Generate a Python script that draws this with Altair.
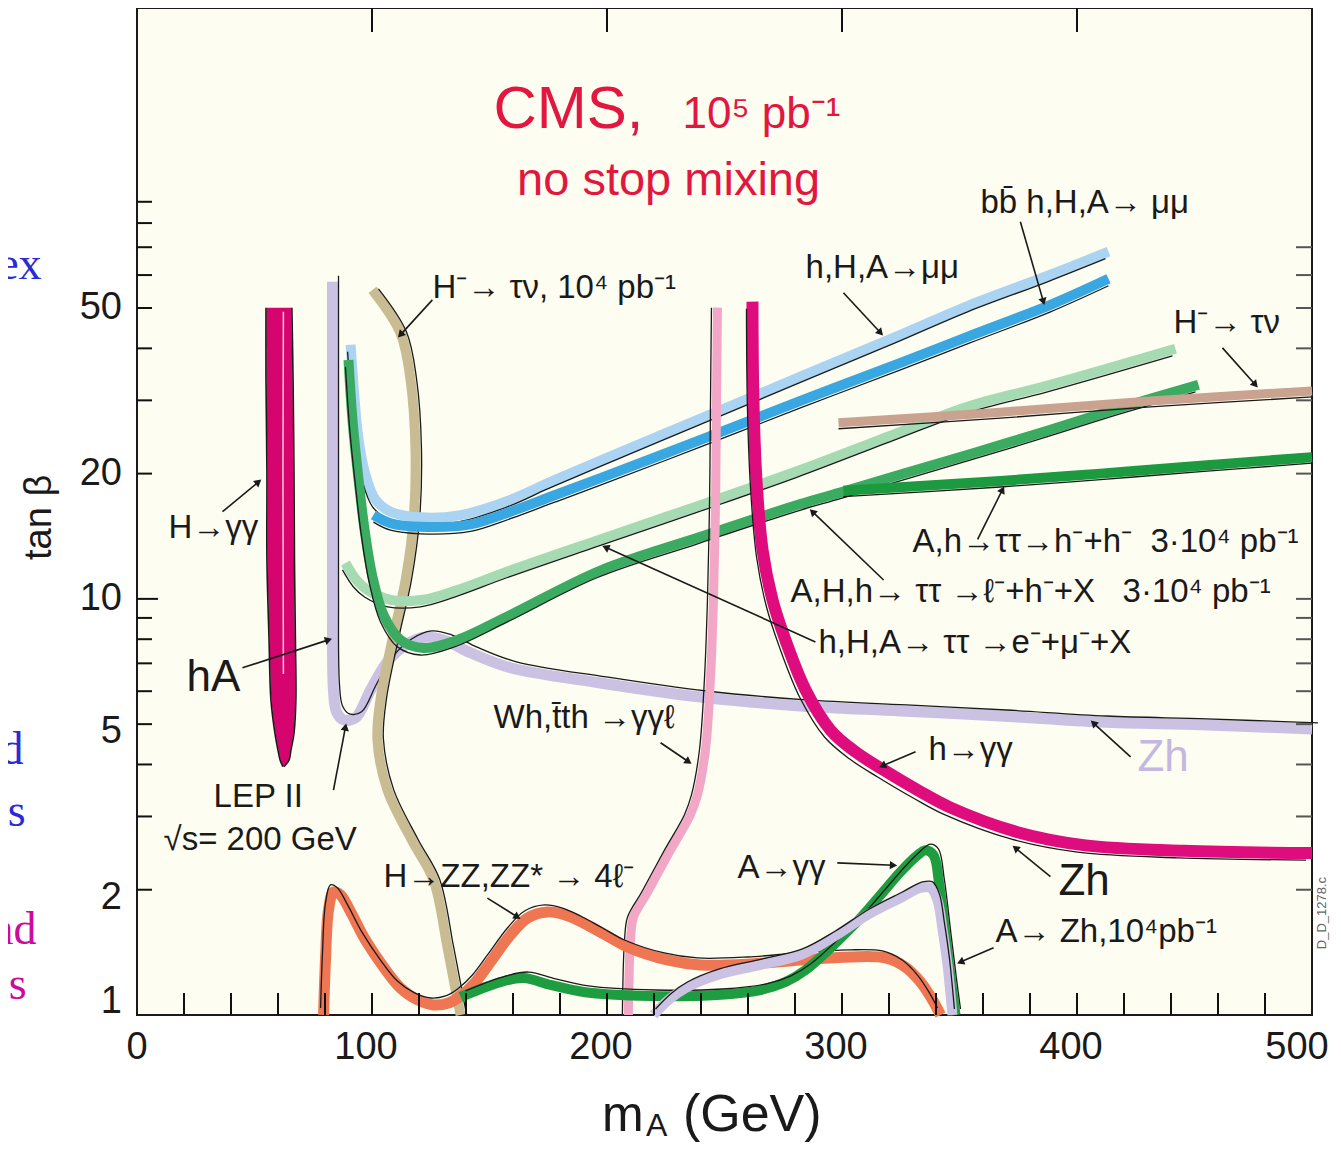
import math
import altair as alt
import pandas as pd

# ---------------- axes / ticks ----------------
x_tick_labels = [0, 100, 200, 300, 400, 500]
y_tick_labels = [1, 2, 5, 10, 20, 50]
x_minor_ticks = [20, 40, 60, 80, 100, 120, 140, 160, 180, 200, 220, 240, 260, 280, 300,
                 320, 340, 360, 380, 400, 420, 440, 460, 480]
x_top_ticks = [100, 200, 300, 400]
y_left_ticks = [2, 3, 4, 5, 6, 7, 8, 9, 20, 30, 40, 50, 60, 70, 80, 90]
y_right_ticks = [2, 3, 4, 5, 6, 7, 8, 9, 20, 30, 40, 50, 60, 70]
y_long_ticks = [10]

# ---------------- curves (m_A in GeV, tan beta) ----------------
# H -> gamma gamma narrow region (left edge / right edge vs tan beta)
hgg_y = [50.1, 33.6, 19.9, 12.4, 7.97, 5.72, 4.76, 4.33, 4.10, 3.95]
hgg_xl = [55.1, 55.1, 55.5, 55.5, 56.4, 57.2, 58.9, 60.2, 61.1, 62.3]
hgg_xr = [65.7, 66.2, 66.6, 66.8, 67.2, 67.4, 66.6, 65.3, 64.5, 62.3]
hgg_hl_x = [62.3, 62.1, 62.3]
hgg_hl_y = [49.0, 20.0, 6.6]

# LEP II / Zh (lavender)
lep_x = [83.2, 83.2, 83.2, 83.2, 83.6, 84.9, 87.9, 93.0, 99.4, 106.6, 114.3, 122.8, 131.3,
         141.9, 158.9, 197.2, 239.8, 282.3, 324.9, 367.4, 410.0, 452.6, 500.0]
lep_y = [57.8, 30.1, 17.3, 9.95, 6.04, 5.35, 5.12, 5.18, 6.04, 7.06, 7.75, 8.10, 7.93,
         7.42, 6.83, 6.28, 5.81, 5.53, 5.38, 5.23, 5.06, 4.98, 4.87]

# H- -> tau nu, 1e4 pb-1 (tan)
tan_x = [100.2, 112.1, 116.4, 118.5, 117.7, 114.3, 108.7, 103.6, 102.3, 106.6, 117.0,
         126.2, 132.1, 136.4, 137.7]
tan_y = [55.3, 43.6, 33.6, 22.8, 15.5, 11.1, 7.97, 5.72, 4.58, 3.47, 2.63, 2.11, 1.457,
         1.086, 1.0]

# h,H,A -> mu mu (light blue)
lb_x = [90.9, 92.6, 94.3, 97.2, 101.5, 107.9, 120.6, 137.7, 158.9, 176.0, 197.2, 239.8,
        282.3, 324.9, 354.7, 388.7, 413.4]
lb_y = [40.8, 30.1, 24.1, 19.9, 17.3, 16.2, 15.7, 15.9, 17.3, 19.1, 21.5, 27.1, 34.2,
        43.1, 50.9, 60.1, 68.3]

# bb h,H,A -> mu mu (blue)
db_x = [100.6, 107.9, 120.6, 141.9, 158.9, 176.0, 197.2, 239.8, 282.3, 324.9, 354.7,
        388.7, 413.4]
db_y = [15.9, 15.2, 14.9, 15.1, 16.2, 17.6, 19.5, 24.1, 29.9, 36.9, 42.9, 50.9, 58.8]

# h,H,A -> tau tau -> e + mu + X (light green)
lg_x = [88.7, 93.4, 98.1, 107.9, 121.9, 136.4, 158.9, 197.2, 239.8, 282.3, 324.9, 354.7,
        388.7, 441.9]
lg_y = [12.2, 11.1, 10.5, 9.95, 9.95, 10.5, 11.7, 13.9, 16.8, 20.4, 25.2, 29.1, 32.7,
        39.9]

# A,H,h -> tau tau -> l + h + X (green)
mg_x = [90.0, 91.7, 94.3, 96.8, 100.2, 104.9, 112.1, 121.9, 136.4, 158.9, 197.2, 239.8,
        282.3, 300.6, 324.9, 354.7, 388.7, 418.5, 451.7]
mg_y = [37.5, 26.9, 19.3, 14.7, 11.3, 9.15, 7.97, 7.62, 7.97, 9.15, 11.7, 14.1, 16.9,
        18.1, 19.9, 22.3, 25.5, 28.8, 32.7]

# A,h -> tau tau -> h + h (dark green)
dg_x = [300.6, 367.4, 410.0, 452.6, 500.0]
dg_y = [18.2, 19.2, 20.0, 20.9, 21.9]

# H- -> tau nu (brown)
br_x = [298.5, 367.4, 431.3, 500.0]
br_y = [26.5, 28.1, 29.9, 31.6]

# Wh, tth -> gamma gamma l (pink)
pk_x = [247.0, 246.6, 246.2, 245.3, 244.0, 241.9, 238.5, 235.5, 227.0, 217.2, 211.3,
        210.0, 209.1]
pk_y = [50.1, 30.1, 17.3, 9.95, 6.39, 4.34, 3.38, 3.03, 2.49, 1.97, 1.72, 1.51, 1.0]

# h -> gamma gamma (magenta)
mh_x = [261.9, 262.3, 263.6, 266.2, 270.4, 275.9, 284.5, 295.1, 305.7, 317.7, 333.4,
        346.2, 374.7, 402.8, 445.3, 500.0]
mh_y = [51.8, 30.1, 19.3, 13.1, 9.95, 7.97, 6.04, 4.84, 4.29, 3.88, 3.44, 3.15, 2.75,
        2.56, 2.48, 2.45]

# H -> ZZ, ZZ* -> 4l (orange)
or_x = [79.4, 80.2, 81.5, 83.6, 86.6, 90.9, 97.2, 104.9, 112.1, 119.4, 126.2, 132.6,
        137.7, 144.0, 150.4, 158.9, 166.2, 174.7, 182.3, 190.0, 199.4, 208.7, 225.6,
        239.8, 261.1, 282.3, 303.6, 318.5, 326.9, 333.4, 338.5, 341.9]
or_y = [1.0, 1.356, 1.789, 1.976, 1.943, 1.769, 1.515, 1.304, 1.161, 1.087, 1.057, 1.069,
        1.111, 1.2, 1.341, 1.557, 1.711, 1.769, 1.739, 1.664, 1.557, 1.457, 1.356,
        1.319, 1.326, 1.356, 1.379, 1.371, 1.304, 1.2, 1.087, 1.0]

# A -> gamma gamma (green, bottom)
ag_x = [137.7, 146.2, 154.7, 164.5, 176.0, 190.0, 218.5, 247.0, 265.3, 275.9, 284.5,
        296.4, 307.9, 316.4, 324.9, 331.3, 335.5, 338.9, 341.4, 344.0, 346.6, 348.3]
ag_y = [1.105, 1.155, 1.2, 1.227, 1.181, 1.136, 1.111, 1.117, 1.148, 1.2, 1.283, 1.473,
        1.711, 1.943, 2.207, 2.398, 2.49, 2.425, 2.053, 1.557, 1.181, 1.0]

# A -> Zh, 1e4 pb-1 (lavender, bottom)
az_x = [219.8, 226.2, 233.4, 247.0, 265.3, 282.3, 296.4, 310.8, 324.9, 333.4, 337.7,
        340.6, 342.8, 344.9, 346.2, 347.0]
az_y = [1.0, 1.087, 1.161, 1.248, 1.319, 1.394, 1.54, 1.739, 1.911, 2.02, 2.02, 1.89,
        1.601, 1.319, 1.117, 1.0]

# ---------------- annotations ----------------
NB = "\u00a0"
label_text = ["H→γγ", "LEP II", "√s= 200 GeV", "H⁻→ τν, 10⁴ pb⁻¹", "h,H,A→μμ",
              "bb̄ h,H,A→ μμ", "H⁻→ τν", "A,h→ττ→h⁻+h⁻" + NB * 2 + "3·10⁴ pb⁻¹",
              "A,H,h→ ττ →ℓ⁻+h⁻+X" + NB * 3 + "3·10⁴ pb⁻¹", "h,H,A→ ττ →e⁻+μ⁻+X",
              "Wh,t̄th →γγℓ", "h→γγ", "A→γγ", "H→ZZ,ZZ* → 4ℓ⁻", "A→ Zh,10⁴pb⁻¹"]
label_x = [13.4, 32.6, 11.3, 125.7, 284.5, 358.9, 441.1, 330.0, 278.1, 290.0, 151.7,
           336.8, 255.5, 104.9, 365.3]
label_y = [14.8, 3.34, 2.63, 55.9, 62.5, 89.5, 46.1, 13.7, 10.4, 7.84, 5.18, 4.34, 2.26,
           2.15, 1.58]

big_text = ["hA", "Zh"]
big_x = [21.1, 392.1]
big_y = [6.46, 2.09]

zh_text = ["Zh"]
zh_x = [425.7]
zh_y = [4.15]

# arrows: start (x, y) -> tip (x, y)
arr_x1 = [36.4, 44.9, 83.6, 125.7, 300.6, 375.9, 461.9, 357.7, 317.7, 288.7, 222.8,
          331.3, 422.8, 388.7, 298.0, 149.1, 364.5]
arr_y1 = [16.2, 6.83, 3.47, 52.3, 54.4, 80.6, 40.1, 13.9, 11.1, 7.88, 4.51, 4.29, 4.17,
          2.15, 2.32, 1.91, 1.45]
arr_x2 = [51.7, 81.5, 88.7, 112.1, 316.4, 385.7, 475.9, 368.3, 287.4, 199.4, 234.7,
          317.2, 407.0, 373.8, 321.9, 161.9, 350.4]
arr_y2 = [19.1, 7.97, 4.92, 43.1, 43.6, 51.8, 32.7, 18.3, 16.2, 13.3, 4.06, 3.97, 5.03,
          2.52, 2.29, 1.72, 1.34]

# ---------------- styling ----------------
W, H = 1175, 1007
XMAX = 500
YMIN, YMAX = 1.0, 263.0
FONT = "Liberation Sans"
INK = "#1a1a1a"
BG = "#fdfdf1"

XS = alt.Scale(domain=[0, XMAX], nice=False, zero=False)
YS = alt.Scale(type="log", domain=[YMIN, YMAX], nice=False)


def ex(f):
    return alt.X(f"{f}:Q", scale=XS, axis=None)


def ey(f):
    return alt.Y(f"{f}:Q", scale=YS, axis=None)


def band(xs, ys, color, w, dx, dy):
    d = pd.DataFrame({"i": list(range(len(xs))), "x": xs, "y": ys})
    base = alt.Chart(d)
    b = base.mark_line(color=color, strokeWidth=w, interpolate="catmull-rom",
                       strokeCap="butt", strokeJoin="round").encode(
        x=ex("x"), y=ey("y"), order=alt.Order("i:Q"))
    k = base.mark_line(color=INK, strokeWidth=1.3, interpolate="catmull-rom",
                       xOffset=dx, yOffset=dy).encode(
        x=ex("x"), y=ey("y"), order=alt.Order("i:Q"))
    return [b, k]


def texts(t, xs, ys, size, color=INK, align="left", baseline="middle", font=FONT,
          angle=0):
    d = pd.DataFrame({"t": t, "x": xs, "y": ys})
    return alt.Chart(d).mark_text(align=align, baseline=baseline, font=font,
                                  fontSize=size, color=color, angle=angle).encode(
        x=ex("x"), y=ey("y"), text="t:N")


layers = []

# H -> gamma gamma region
hgg = pd.DataFrame({"i": list(range(len(hgg_y))), "y": hgg_y, "xl": hgg_xl, "xr": hgg_xr})
layers.append(alt.Chart(hgg).mark_area(color="#d6046f", orient="horizontal",
                                       interpolate="catmull-rom").encode(
    y=ey("y"), x=ex("xl"), x2="xr:Q"))
for f, off in (("xl", -0.5), ("xr", 0.5)):
    layers.append(alt.Chart(hgg).mark_line(color=INK, strokeWidth=1.6,
                                           interpolate="catmull-rom", xOffset=off).encode(
        x=ex(f), y=ey("y"), order=alt.Order("i:Q")))
hl = pd.DataFrame({"i": [0, 1, 2], "x": hgg_hl_x, "y": hgg_hl_y})
layers.append(alt.Chart(hl).mark_line(color="#f6c8dc", strokeWidth=1.5).encode(
    x=ex("x"), y=ey("y"), order=alt.Order("i:Q")))

layers += band(lep_x, lep_y, "#cbc1e3", 11, 6, -6)
layers += band(tan_x, tan_y, "#c9bc92", 10, 6, -1)
layers += band(lb_x, lb_y, "#aad4f1", 10, -3, 7)
layers += band(db_x, db_y, "#38a7e2", 10, 0, 7)
layers += band(lg_x, lg_y, "#a6dab2", 10, -3, 7)
layers += band(mg_x, mg_y, "#3aab60", 10, -3, 7)
layers += band(dg_x, dg_y, "#1c9a40", 10, 0, 6)
layers += band(br_x, br_y, "#c9a38f", 9, 0, 6)
layers += band(pk_x, pk_y, "#f3a7c7", 9, -6, 0)
layers += band(mh_x, mh_y, "#de0c7c", 12, -6, 7)
layers += band(or_x, or_y, "#ee7652", 11, -3, -7)
layers += band(ag_x, ag_y, "#1e9c40", 10, 5, -6)
layers += band(az_x, az_y, "#cbc1e3", 10, 2, -6)

# ---------------- inward ticks ----------------
tick_color = "#111111"
layers.append(alt.Chart(pd.DataFrame({"v": x_minor_ticks})).mark_rule(
    color=tick_color, strokeWidth=2).encode(x=ex("v"), y=alt.value(H), y2=alt.value(H - 22)))
layers.append(alt.Chart(pd.DataFrame({"v": x_top_ticks})).mark_rule(
    color=tick_color, strokeWidth=2).encode(x=ex("v"), y=alt.value(0), y2=alt.value(24)))
layers.append(alt.Chart(pd.DataFrame({"v": y_left_ticks})).mark_rule(
    color=tick_color, strokeWidth=2).encode(y=ey("v"), x=alt.value(0), x2=alt.value(15)))
layers.append(alt.Chart(pd.DataFrame({"v": y_long_ticks})).mark_rule(
    color=tick_color, strokeWidth=2).encode(y=ey("v"), x=alt.value(0), x2=alt.value(21)))
layers.append(alt.Chart(pd.DataFrame({"v": y_right_ticks + y_long_ticks})).mark_rule(
    color="#555555", strokeWidth=2).encode(y=ey("v"), x=alt.value(W), x2=alt.value(W - 16)))

# ---------------- tick labels ----------------


def xlabels(vals, dx):
    d = pd.DataFrame({"v": vals, "t": [str(v) for v in vals]})
    return alt.Chart(d).mark_text(font=FONT, fontSize=38, color=INK, align="center",
                                  baseline="middle", xOffset=dx).encode(
        x=ex("v"), y=alt.value(H + 33), text="t:N")


def ylabels(vals, dy):
    d = pd.DataFrame({"v": vals, "t": [str(v) for v in vals]})
    return alt.Chart(d).mark_text(font=FONT, fontSize=38, color=INK, align="right",
                                  baseline="middle", yOffset=dy).encode(
        y=ey("v"), x=alt.value(-15), text="t:N")


layers.append(xlabels(x_tick_labels[:1], 0))
layers.append(xlabels(x_tick_labels[1:5], -6))
layers.append(xlabels(x_tick_labels[5:], -15))
layers.append(ylabels(y_tick_labels[:1], -13))
layers.append(ylabels(y_tick_labels[1:3], 8))
layers.append(ylabels(y_tick_labels[3:], 0))

# ---------------- arrows ----------------


def to_px(x, y):
    return x / XMAX * W, H * (1 - math.log10(y / YMIN) / math.log10(YMAX / YMIN))


angles = []
for x1, y1, x2, y2 in zip(arr_x1, arr_y1, arr_x2, arr_y2):
    p1, q1 = to_px(x1, y1)
    p2, q2 = to_px(x2, y2)
    angles.append((math.degrees(math.atan2(p2 - p1, -(q2 - q1))) + 360) % 360)

arr = pd.DataFrame({"x": arr_x1, "y": arr_y1, "x2": arr_x2, "y2": arr_y2, "ang": angles})
layers.append(alt.Chart(arr).mark_rule(color=INK, strokeWidth=1.6).encode(
    x=ex("x"), y=ey("y"), x2="x2:Q", y2="y2:Q"))
layers.append(alt.Chart(arr).mark_point(shape="triangle-up", filled=True, size=70,
                                        color=INK, opacity=1).encode(
    x=ex("x2"), y=ey("y2"), angle=alt.Angle("ang:Q", scale=None)))

# ---------------- text ----------------
layers.append(texts(label_text, label_x, label_y, 33))
layers.append(texts(big_text, big_x, big_y, 44))
layers.append(texts(zh_text, zh_x, zh_y, 44, color="#c4b8e0"))

layers.append(texts(["CMS,"], [151.7], [135.6], 60, color="#e2173f",
                    baseline="alphabetic"))
layers.append(texts(["10⁵ pb⁻¹"], [232.1], [135.6], 44, color="#e2173f",
                    baseline="alphabetic"))
layers.append(texts(["no stop mixing"], [226.2], [93.6], 47, color="#e2173f",
                    align="center", baseline="alphabetic"))
layers.append(texts(["D_D_1278.c"], [504.3], [1.758], 13, color="#666666",
                    align="center", angle=270))

# axis titles
layers.append(texts(["tan β"], [-41.1], [15.7], 38, align="center", angle=270))
layers.append(texts(["m"], [197.9], [0.527], 50, baseline="alphabetic"))
layers.append(texts(["A"], [216.6], [0.512], 32, baseline="alphabetic"))
layers.append(texts(["(GeV)"], [232.3], [0.527], 52, baseline="alphabetic"))

# fragments of the surrounding slide text (cut by the left edge)
layers.append(texts(["ex", "d", "s"], [-40.6, -48.3, -47.4], [63.5, 4.34, 3.08], 46,
                    color="#2b2bd6", align="right", font="Liberation Serif"))
layers.append(texts(["nd", "s"], [-42.8, -47.0], [1.60, 1.18], 46,
                    color="#cc0a9e", align="right", font="Liberation Serif"))

chart = alt.layer(*layers).properties(
    width=W, height=H,
    autosize=alt.AutoSizeParams(type="none"),
    padding={"left": 129, "top": 0, "right": 20, "bottom": 128},
    background="white",
).configure_view(fill=BG, stroke=INK, strokeWidth=2)

chart.save("out.html", embed_options={"renderer": "svg", "actions": False})
